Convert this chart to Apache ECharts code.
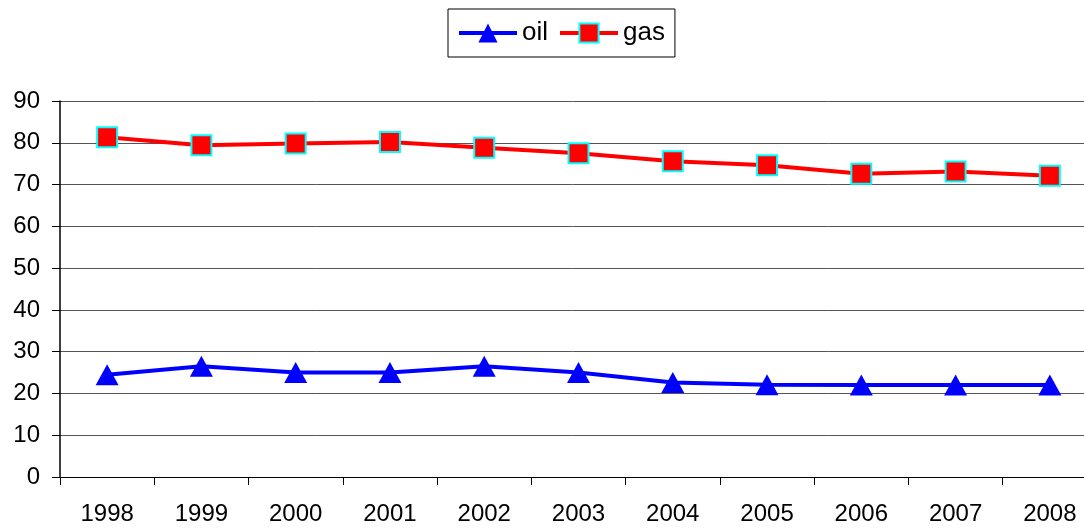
<!DOCTYPE html>
<html>
<head>
<meta charset="utf-8">
<script src="https://cdn.jsdelivr.net/npm/echarts@6/dist/echarts.min.js"></script>
<style>
html,body{margin:0;padding:0;background:#fff;}
#chart{width:1084px;height:528px;}
</style>
</head>
<body>
<div id="chart"></div>
<script>
const categories = ['1998','1999','2000','2001','2002','2003','2004','2005','2006','2007','2008'];
const oilValues = [24.5, 26.5, 25.0, 25.0, 26.5, 25.0, 22.6, 22.1, 22.0, 22.0, 22.0];
const gasValues = [81.3, 79.4, 79.8, 80.2, 78.8, 77.5, 75.6, 74.6, 72.6, 73.1, 72.1];
const yTicks = {min: 0, max: 90, interval: 10};

const chart = echarts.init(document.getElementById('chart'));
const font = 'Liberation Sans, Arial, sans-serif';
chart.setOption({
  animation: false,
  backgroundColor: '#ffffff',
  legend: {
    top: 9,
    left: 448,
    padding: [11, 10, 11, 9],
    itemGap: 10,
    itemWidth: 58,
    itemHeight: 24,
    borderColor: '#000',
    borderWidth: 1,
    backgroundColor: '#fff',
    lineStyle: {width: 4},
    textStyle: {fontFamily: font, fontSize: 26, color: '#000'},
    data: ['oil', 'gas']
  },
  grid: {left: 60, width: 1037, top: 101, height: 376, containLabel: false, outerBoundsMode: 'none'},
  xAxis: {
    type: 'category',
    data: categories,
    boundaryGap: true,
    axisLine: {lineStyle: {color: '#000', width: 1}},
    axisTick: {show: true, length: 8, lineStyle: {color: '#000'}},
    axisLabel: {fontFamily: font, fontSize: 24, color: '#000', margin: 25}
  },
  yAxis: {
    type: 'value',
    min: yTicks.min,
    max: yTicks.max,
    interval: yTicks.interval,
    axisLine: {show: true, lineStyle: {color: '#000', width: 1.5}},
    axisTick: {show: true, length: 8, lineStyle: {color: '#000'}},
    axisLabel: {fontFamily: font, fontSize: 24, color: '#000', margin: 20},
    splitLine: {show: true, lineStyle: {color: '#555', width: 1}}
  },
  series: [
    {
      name: 'oil',
      type: 'line',
      data: oilValues,
      symbol: 'triangle',
      symbolSize: [23, 21],
      lineStyle: {color: '#0000ff', width: 4},
      itemStyle: {color: '#0000ff', borderWidth: 0},
      z: 3
    },
    {
      name: 'gas',
      type: 'line',
      data: gasValues,
      symbol: 'rect',
      symbolSize: 20,
      lineStyle: {color: '#ff0000', width: 4},
      itemStyle: {color: '#ff0000', borderColor: '#00ffff', borderWidth: 2},
      z: 3
    }
  ]
});
</script>
</body>
</html>
